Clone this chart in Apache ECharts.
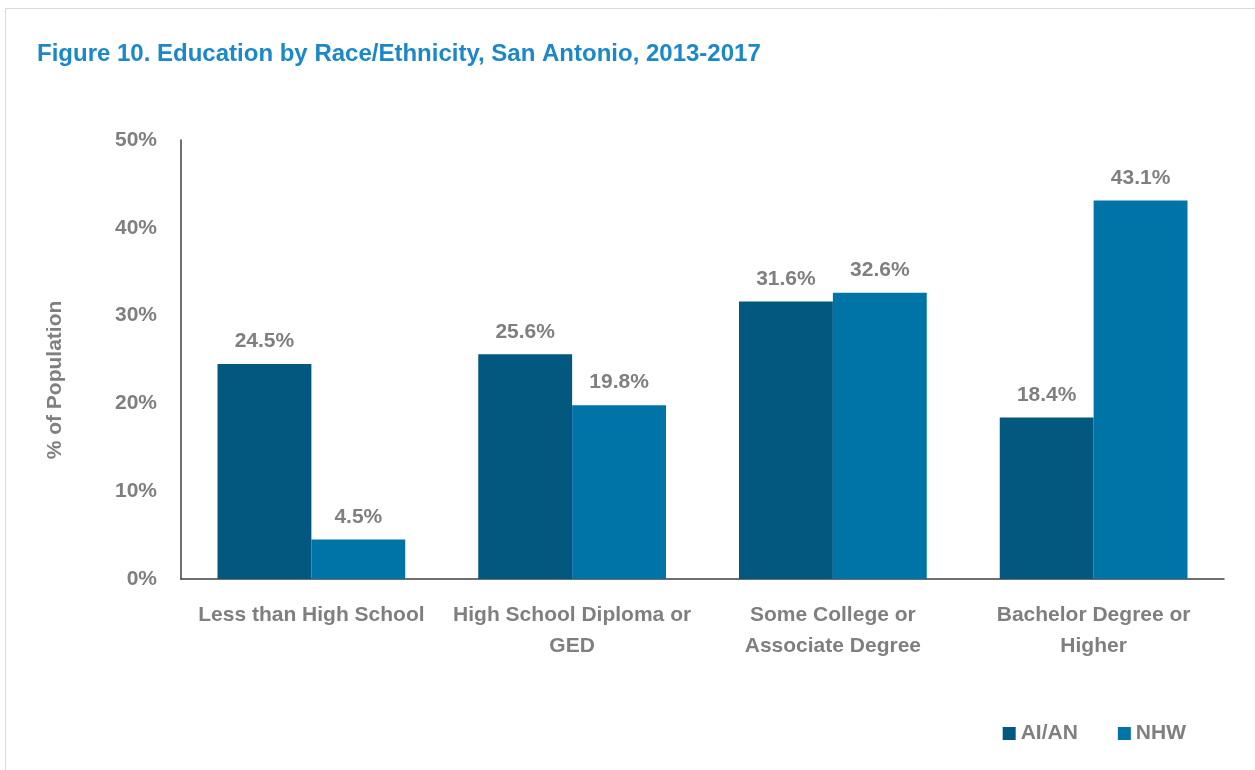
<!DOCTYPE html>
<html>
<head>
<meta charset="utf-8">
<script src="https://cdn.jsdelivr.net/npm/echarts@6/dist/echarts.min.js"></script>
<style>html,body{margin:0;padding:0;background:#fff;}#c{width:1255px;height:770px;}</style>
</head>
<body>
<div id="c"></div>
<script>
const categories = ["Less than High School", "High School Diploma or\nGED", "Some College or\nAssociate Degree", "Bachelor Degree or\nHigher"];
const seriesNames = ["AI/AN", "NHW"];
const aian = [24.5, 25.6, 31.6, 18.4];
const nhw = [4.5, 19.8, 32.6, 43.1];
const yTicks = [0, 10, 20, 30, 40, 50];
const yAxisTitle = '% of Population';

const FONT = '"Liberation Sans Narrow", "Liberation Sans", Arial, sans-serif';
const GRAY = '#7f7f7f';
const chart = echarts.init(document.getElementById('c'));
const lbl = {
  show: true, position: 'top', distance: 12,
  color: GRAY, fontFamily: FONT, fontWeight: 'bold', fontSize: 21,
  formatter: p => p.value.toFixed(1) + '%'
};
chart.setOption({
  animation: false,
  graphic: [{
    type: 'rect', shape: {x: 5.5, y: 8.5, width: 1270, height: 800},
    style: {fill: 'none', stroke: '#d9d9d9', lineWidth: 1}, silent: true
  }, {
    type: 'text', x: 55, y: 380, rotation: Math.PI / 2,
    style: {text: yAxisTitle, fill: GRAY, font: 'bold 21px ' + FONT, textAlign: 'center', textVerticalAlign: 'middle'},
    silent: true
  }],
  title: {
    text: 'Figure 10. Education by Race/Ethnicity, San Antonio, 2013-2017',
    left: 32, top: 37,
    textStyle: {color: '#1a88c9', fontFamily: FONT, fontWeight: 'bold', fontSize: 24}
  },
  legend: {
    data: seriesNames, right: 64, top: 718, itemWidth: 13, itemHeight: 13, itemGap: 40,
    icon: 'rect',
    textStyle: {color: GRAY, fontFamily: FONT, fontWeight: 'bold', fontSize: 21}
  },
  grid: {left: 181, right: 31, top: 140, bottom: 191, containLabel: false},
  xAxis: {
    type: 'category', data: categories,
    axisLine: {lineStyle: {color: '#404040', width: 1.5}},
    axisTick: {show: false},
    axisLabel: {color: GRAY, fontFamily: FONT, fontWeight: 'bold', fontSize: 21, margin: 21, lineHeight: 31, interval: 0}
  },
  yAxis: {
    type: 'value', min: 0, max: 50, interval: 10,
    axisLine: {show: true, lineStyle: {color: '#404040', width: 1.5}},
    axisTick: {show: false},
    splitLine: {show: false},
    axisLabel: {color: GRAY, fontFamily: FONT, fontWeight: 'bold', fontSize: 21, margin: 24,
      formatter: v => yTicks.includes(v) ? v + '%' : ''}
  },
  series: [
    {name: seriesNames[0], type: 'bar', data: aian, barGap: '0%', barCategoryGap: '28%',
     itemStyle: {color: '#02587e'}, label: lbl},
    {name: seriesNames[1], type: 'bar', data: nhw, barGap: '0%', barCategoryGap: '28%',
     itemStyle: {color: '#0073a7'}, label: lbl}
  ]
});
</script>
</body>
</html>
